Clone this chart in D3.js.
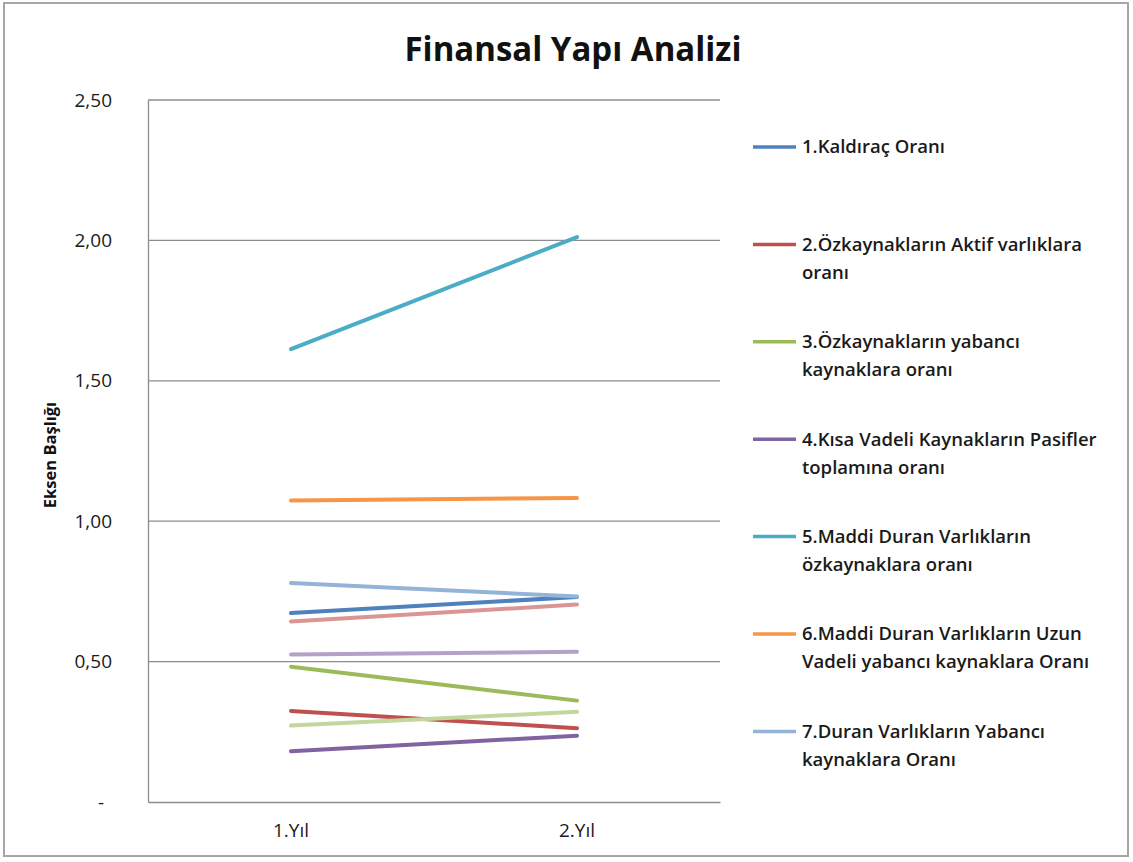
<!DOCTYPE html>
<html><head><meta charset="utf-8">
<script src="https://cdn.jsdelivr.net/npm/d3@7"></script>
<style>html,body{margin:0;padding:0;background:#fff;}svg{display:block;}</style>
</head><body>
<script>
const categories = ["1.Yıl", "2.Yıl"];
const seriesNames = [
  "1.Kaldıraç Oranı",
  "2.Özkaynakların Aktif varlıklara\noranı",
  "3.Özkaynakların yabancı\nkaynaklara oranı",
  "4.Kısa Vadeli Kaynakların Pasifler\ntoplamına oranı",
  "5.Maddi Duran Varlıkların\nözkaynaklara oranı",
  "6.Maddi Duran Varlıkların Uzun\nVadeli yabancı kaynaklara Oranı",
  "7.Duran Varlıkların Yabancı\nkaynaklara Oranı",
  "8", "9", "10"
];
const s1 = [0.673, 0.730];
const s2 = [0.324, 0.263];
const s3 = [0.482, 0.361];
const s4 = [0.181, 0.236];
const s5 = [1.613, 2.012];
const s6 = [1.074, 1.083];
const s7 = [0.780, 0.732];
const s8 = [0.643, 0.703];
const s9 = [0.272, 0.321];
const s10 = [0.525, 0.535];
const seriesValues = [s1, s2, s3, s4, s5, s6, s7, s8, s9, s10];
const colors = ["#4F81BD","#C0504D","#9BBB59","#8064A2","#4BACC6","#F79646","#95B3D7","#D99694","#C3D69B","#B3A2C7"];
const yTicks = [0, 0.5, 1.0, 1.5, 2.0, 2.5];
const legendCount = 7;

const W = 1133, H = 862;
const svg = d3.select("body").append("svg").attr("width", W).attr("height", H);
svg.append("rect").attr("width", W).attr("height", H).attr("fill", "#fff");
svg.append("rect").attr("x", 4).attr("y", 3).attr("width", 1124).attr("height", 853)
  .attr("fill", "none").attr("stroke", "#a6a6a6").attr("stroke-width", 2);

const font = "'Open Sans', 'Noto Sans', sans-serif";
const x = d3.scaleBand().domain(categories).range([148, 720]).padding(0);
const y = d3.scaleLinear().domain([0, 2.5]).range([802, 100]);

// title
svg.append("text").attr("x", 573).attr("y", 61).attr("text-anchor", "middle")
  .attr("font-family", font).attr("font-weight", 700).attr("font-size", 34)
  .attr("textLength", 337).attr("lengthAdjust", "spacingAndGlyphs")
  .attr("fill", "#111").text("Finansal Yapı Analizi");

// gridlines
const g = svg.append("g");
g.selectAll("line.grid").data(yTicks.filter(d => d > 0)).join("line")
  .attr("x1", 148).attr("x2", 720).attr("y1", d => y(d)).attr("y2", d => y(d))
  .attr("stroke", "#8c8c8c").attr("stroke-width", 1.3);

// y axis
const fmt = d => d === 0 ? "-" : d3.format(".2f")(d).replace(".", ",");
const yAxis = d3.axisLeft(y).tickValues(yTicks).tickFormat(fmt).tickSize(0).tickPadding(36);
const ya = svg.append("g").attr("transform", "translate(148,0)").call(yAxis);
ya.select(".domain").attr("stroke", "#8c8c8c").attr("stroke-width", 1.3);
ya.selectAll("text").attr("font-family", font).attr("font-size", 19).attr("fill", "#1a1a1a")
  .attr("dx", d => d === 0 ? -8 : 0);

// x axis
const xAxis = d3.axisBottom(x).tickSize(0).tickPadding(22);
const xa = svg.append("g").attr("transform", "translate(0,802)").call(xAxis);
xa.select(".domain").attr("stroke", "#8c8c8c").attr("stroke-width", 1.3);
xa.selectAll("text").attr("font-family", font).attr("font-size", 19).attr("fill", "#1a1a1a");

// axis title
svg.append("text").attr("transform", "translate(52,455) rotate(-90)")
  .attr("text-anchor", "middle").attr("dominant-baseline", "middle")
  .attr("font-family", font).attr("font-weight", 700).attr("font-size", 16.5)
  .attr("fill", "#111").text("Eksen Başlığı");

// lines
const line = d3.line().x((d, i) => x(categories[i]) + x.bandwidth() / 2).y(d => y(d));
svg.append("g").selectAll("path").data(seriesValues).join("path")
  .attr("d", d => line(d)).attr("fill", "none")
  .attr("stroke", (d, i) => colors[i]).attr("stroke-width", 4).attr("stroke-linecap", "round");

// legend
const leg = svg.append("g");
const legItems = leg.selectAll("g").data(seriesNames.slice(0, legendCount)).join("g")
  .attr("transform", (d, i) => `translate(0,${147 + i * 97.4})`);
legItems.append("line").attr("x1", 753).attr("x2", 796).attr("y1", 0).attr("y2", 0)
  .attr("stroke", (d, i) => colors[i]).attr("stroke-width", 3.5);
legItems.append("text").attr("font-family", font).attr("font-weight", 600).attr("font-size", 18.5)
  .attr("fill", "#1a1a1a")
  .each(function(d) {
    const t = d3.select(this);
    d.split("\n").forEach((ln, k) => {
      t.append("tspan").attr("x", 802).attr("y", k * 28).attr("dy", "0.35em").text(ln);
    });
  });
</script>
</body></html>
